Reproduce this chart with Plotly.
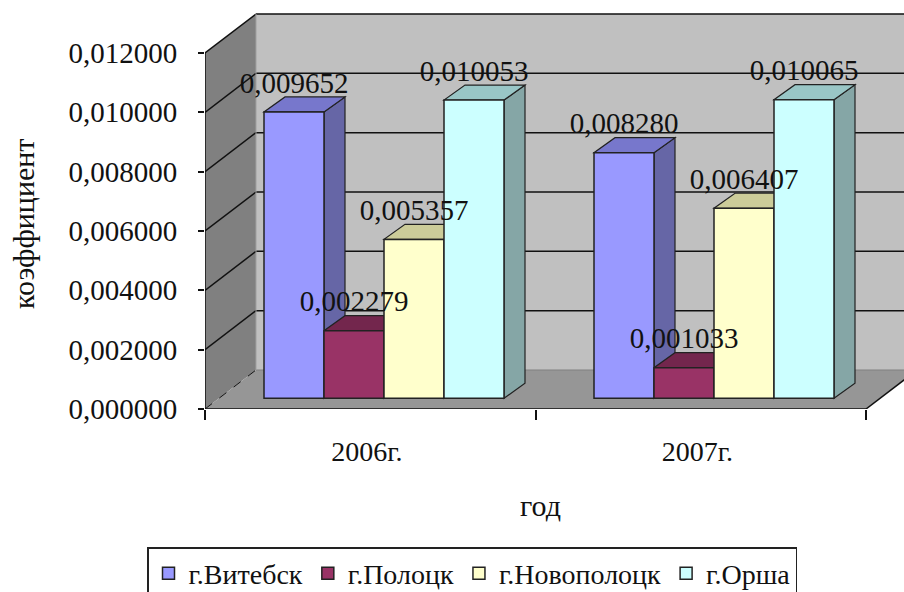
import plotly.graph_objects as go

categories = ["2006г.", "2007г."]
cities = ["г.Витебск", "г.Полоцк", "г.Новополоцк", "г.Орша"]
vitebsk = [0.009652, 0.008280]
polotsk = [0.002279, 0.001033]
novopolotsk = [0.005357, 0.006407]
orsha = [0.010053, 0.010065]
y_ticks = [0.0, 0.002, 0.004, 0.006, 0.008, 0.010, 0.012]
series = [vitebsk, polotsk, novopolotsk, orsha]

front = ["#9999FF", "#993366", "#FFFFCC", "#CCFFFF"]
top_c = ["#7777CC", "#73264D", "#CCCC99", "#99C6C6"]
side_c = ["#6666A6", "#66223F", "#ABAB8A", "#85A6A6"]

FONT = "Liberation Serif"
L, R, T, B, W, H = 205, 0, 8, 183, 904, 592
XS = 330.5            # px per category
YS = 356 / 0.012      # px per unit
px = lambda v: v / XS
py = lambda v: v / YS
WDX, WDY = px(51), py(39)     # wall depth
BDX, BDY = px(21), py(15)     # bar depth
BASE = py(10.7)
BW = px(60)
CENTERS = [0.5416, 1.5401]
XMAX = (W - L - R) / XS
YMAX = (H - T - B) / YS
YTOP = y_ticks[-1]
NCAT = len(categories)
PW, PH = W - L - R, H - T - B


def poly(points, fill, line="rgba(0,0,0,0)", width=0):
    d = "M" + " L".join(f"{a},{b}" for a, b in points) + " Z"
    return dict(type="path", path=d, fillcolor=fill, layer="below",
                line=dict(color=line, width=width), xref="x", yref="y")


def seg(x0, y0, x1, y1, color="#111111", width=1.5, dash="solid"):
    return dict(type="line", x0=x0, y0=y0, x1=x1, y1=y1, xref="x", yref="y", layer="below",
                line=dict(color=color, width=width, dash=dash))


shapes = [
    poly([(WDX, WDY), (NCAT + WDX, WDY), (NCAT + WDX, YTOP + WDY), (WDX, YTOP + WDY)], "#C0C0C0"),
    poly([(0, 0), (WDX, WDY), (WDX, YTOP + WDY), (0, YTOP)], "#808080"),
    poly([(0, 0), (NCAT, 0), (NCAT + WDX, WDY), (WDX, WDY)], "#969696"),
]
for t in y_ticks[1:]:
    shapes.append(seg(0, t, WDX, t + WDY))
    shapes.append(seg(WDX, t + WDY, NCAT + WDX, t + WDY))
shapes.append(seg(0, 0, WDX, WDY, width=1, dash="dash"))
shapes.append(seg(NCAT, 0, NCAT + WDX, WDY))
shapes.append(seg(WDX, WDY, NCAT + WDX, WDY, color="#808080", width=1))
shapes.append(seg(WDX, WDY, WDX, YTOP + WDY, color="#A0A0A0", width=1))

fig = go.Figure()

for g, c in enumerate(CENTERS):
    for s, vals in enumerate(series):
        x0 = c + (s - 2) * BW
        x1 = x0 + BW
        top = vals[g] + BASE
        shapes.append(poly([(x1, BASE), (x1 + BDX, BASE + BDY), (x1 + BDX, top + BDY), (x1, top)],
                           side_c[s], "#222222", 1.2))
        shapes.append(poly([(x0, top), (x1, top), (x1 + BDX, top + BDY), (x0 + BDX, top + BDY)],
                           top_c[s], "#222222", 1.2))

for s, vals in enumerate(series):
    fig.add_trace(go.Bar(
        x=[c + (s - 1.5) * BW for c in CENTERS],
        y=vals, base=BASE, width=BW, name=cities[s],
        marker=dict(color=front[s], line=dict(color="#222222", width=1.5)),
    ))

lab_x, lab_y, lab_t = [], [], []
for s, vals in enumerate(series):
    for g, c in enumerate(CENTERS):
        lab_x.append(c + (s - 1.5) * BW)
        lab_y.append(vals[g] + BASE + py(12))
        lab_t.append(f"{vals[g]:.6f}".replace(".", ","))
fig.add_trace(go.Scatter(x=lab_x, y=lab_y, text=lab_t, mode="text", textposition="top center",
                         cliponaxis=False, showlegend=False,
                         textfont=dict(family=FONT, size=29, color="#111111")))
fig.add_trace(go.Scatter(x=[0, 0, NCAT], y=[YTOP, 0, 0], mode="lines", cliponaxis=False,
                         showlegend=False, line=dict(color="#111111", width=1.5)))

fig.update_layout(
    width=W, height=H, autosize=False, barmode="overlay", separators=",.",
    paper_bgcolor="white", plot_bgcolor="white",
    margin=dict(l=L, r=R, t=T, b=B, autoexpand=False, pad=0),
    font=dict(family=FONT, size=28, color="#111111"),
    shapes=shapes,
    hovermode=False,
    legend=dict(orientation="h", xanchor="center", x=(472 - L) / PW, yanchor="top",
                y=-(547 - (H - B)) / PH,
                bordercolor="#222222", borderwidth=1.5, bgcolor="white",
                font=dict(family=FONT, size=28), itemwidth=30, tracegroupgap=0, itemclick=False),
    annotations=[
        dict(text="год", xref="paper", yref="paper", x=(540 - L) / PW, y=((H - B) - 505) / PH,
             xanchor="center", yanchor="middle", showarrow=False,
             font=dict(family=FONT, size=30, color="#111111")),
        dict(text="коэффициент", xref="paper", yref="paper", x=(23 - L) / PW, y=((H - B) - 224) / PH,
             xanchor="center", yanchor="middle", showarrow=False, textangle=-90,
             font=dict(family=FONT, size=30, color="#111111")),
    ],
)
fig.update_xaxes(
    range=[0, XMAX], tickmode="array", tickvals=[i + 0.49 for i in range(NCAT)], ticktext=categories,
    ticks="", showgrid=False, zeroline=False, showline=False, ticklabelstandoff=23,
    tickfont=dict(family=FONT, size=28),
    minor=dict(tickmode="array", tickvals=list(range(NCAT + 1)), ticks="outside", ticklen=10,
               tickwidth=1.5, tickcolor="#111111", showgrid=False),
)
fig.update_yaxes(
    range=[0, YMAX], tickmode="array", tickvals=y_ticks, tickformat=".6f",
    ticks="outside", ticklen=6, tickwidth=1.5, tickcolor="#111111",
    showgrid=False, zeroline=False, showline=False, ticklabelstandoff=15,
    tickfont=dict(family=FONT, size=29),
)
fig.write_html("out.html", config={"displayModeBar": False},
               post_script="document.body.style.margin='0';")
